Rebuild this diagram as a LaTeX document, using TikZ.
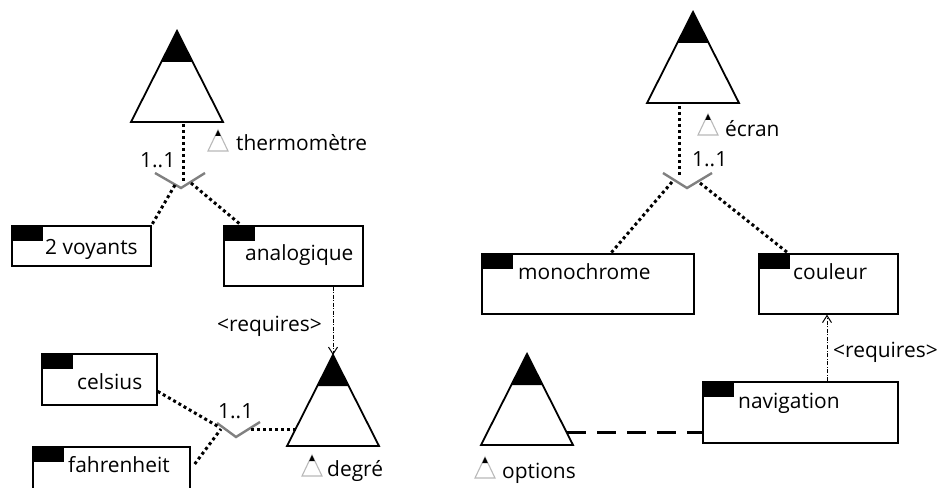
\documentclass[tikz,border=0pt]{standalone}
\usepackage{fontspec}
\setmainfont{Open Sans}
\usetikzlibrary{calc,arrows.meta}
\definecolor{vgray}{RGB}{128,128,128}
\definecolor{igray}{RGB}{185,185,185}
\tikzset{
  fbox/.style={draw=black, line width=1.7bp, anchor=north west, inner sep=0pt,
    path picture={\fill[black] (path picture bounding box.north west) rectangle +(31bp,-15bp);}},
  ftext/.style={anchor=base west, inner sep=0pt, font=\fontsize{21}{24}\selectfont},
  dotline/.style={line width=3bp, dash pattern=on 3bp off 3bp},
  vmark/.style={draw=vgray, line width=2.4bp},
  reqline/.style={line width=1bp, dash pattern=on 4bp off 1.5bp on 1bp off 1.5bp,
    -{Straight Barb[length=7bp,width=9bp,line width=1bp]}},
  optline/.style={line width=3bp, dash pattern=on 19bp off 11bp},
  feat/.pic={
    \fill[black] (0,0) -- (15.7,31) -- (-15.7,31) -- cycle;
    \draw[line width=1.8bp, line join=miter] (0,0) -- (46,91) -- (-46,91) -- cycle;
    \coordinate (-apex) at (0,0);
  },
  ficon/.pic={
    \draw[igray, line width=1.1bp] (0,0) -- (10,21) -- (-10,21) -- cycle;
    \fill[black] (0,0) -- (2.8,6) -- (-2.8,6) -- cycle;
  }
}
\begin{document}
\begin{tikzpicture}[x=1bp,y=-1bp]
\useasboundingbox (0,0) rectangle (942,488);

% ---------- left top: thermometre ----------
\pic (t1) at (177,31) {feat};
\pic at (218,130) {ficon};
\node[ftext] (l1) at (236,151) {thermomètre};
\node[ftext] (c1) at (140,168) {1..1};
\coordinate (j1) at (181,188);
\draw[vmark] (155,173) -- (j1) -- (205,173);
\coordinate (t1b) at (183,124);
\coordinate (j1t) at (183,183);
\draw[dotline] (t1b) -- (j1t);

\node[fbox, minimum width=139bp, minimum height=40bp] (v2) at (11,225) {};
\node[ftext] at ($(v2.north west)+(34,30)$) {2 voyants};
\node[fbox, minimum width=139bp, minimum height=60bp] (an) at (223,225) {};
\node[ftext] at ($(an.north west)+(22,36)$) {analogique};
\coordinate (j1l) at (175,185);
\coordinate (j1r) at (191,183);
\draw[dotline] (j1l) -- (v2.north east);
\draw[dotline] (j1r) -- ($(an.north west)+(18,0)$);

% ---------- left bottom: degre ----------
\pic (t3) at (333,355) {feat};
\pic at (312,455) {ficon};
\node[ftext] (l3) at (327,476) {degré};
\draw[reqline] ($(an.south west)+(110,0)$) -- (t3-apex);
\node[ftext] at (217,332) {<requires>};

\node[fbox, minimum width=115bp, minimum height=51bp] (ce) at (41,353) {};
\node[ftext] at ($(ce.north west)+(36,36)$) {celsius};
\node[fbox, minimum width=157bp, minimum height=60bp] (fa) at (32,446) {};
\node[ftext] at ($(fa.north west)+(36,26)$) {fahrenheit};
\node[ftext] (c3) at (218,418) {1..1};
\coordinate (j3) at (236,437);
\draw[vmark] (217,423) -- (j3) -- (260,422);
\coordinate (j3a) at (219,427);
\coordinate (j3b) at (221,429);
\coordinate (j3c) at (251,429);
\coordinate (t3l) at (296,429);
\draw[dotline] (ce.east) ++(0,12) -- (j3a);
\draw[dotline] ($(fa.north east)+(4,18)$) -- (j3b);
\draw[dotline] (j3c) -- (t3l);

% ---------- right top: ecran ----------
\pic (t2) at (693,12) {feat};
\pic at (708,114) {ficon};
\node[ftext] (l2) at (725,137) {écran};
\node[ftext] (c2) at (692,167) {1..1};
\coordinate (j2) at (687,188);
\draw[vmark] (663,173) -- (j2) -- (712,173);
\coordinate (t2b) at (679,106);
\coordinate (j2t) at (679,177);
\draw[dotline] (t2b) -- (j2t);

\node[fbox, minimum width=212bp, minimum height=60bp] (mo) at (481,253) {};
\node[ftext] at ($(mo.north west)+(37,27)$) {monochrome};
\node[fbox, minimum width=139bp, minimum height=60bp] (co) at (758,253) {};
\node[ftext] at ($(co.north west)+(35,27)$) {couleur};
\coordinate (j2l) at (672,182);
\coordinate (j2r) at (700,183);
\draw[dotline] (j2l) -- ($(mo.north west)+(130,0)$);
\draw[dotline] (j2r) -- ($(co.north west)+(30,0)$);

% ---------- right bottom: options ----------
\pic (t4) at (527,354) {feat};
\pic at (485,457) {ficon};
\node[ftext] (l4) at (502,478) {options};
\node[fbox, minimum width=195bp, minimum height=61bp] (na) at (702,381) {};
\node[ftext] at ($(na.north west)+(36,27)$) {navigation};
\draw[reqline] ($(na.north west)+(125,0)$) -- ($(co.south west)+(69,0)$);
\node[ftext] at (833,358) {<requires>};
\coordinate (t4r) at (567,432);
\draw[optline] (t4r) -- (na.west |- t4r);
\end{tikzpicture}
\end{document}
